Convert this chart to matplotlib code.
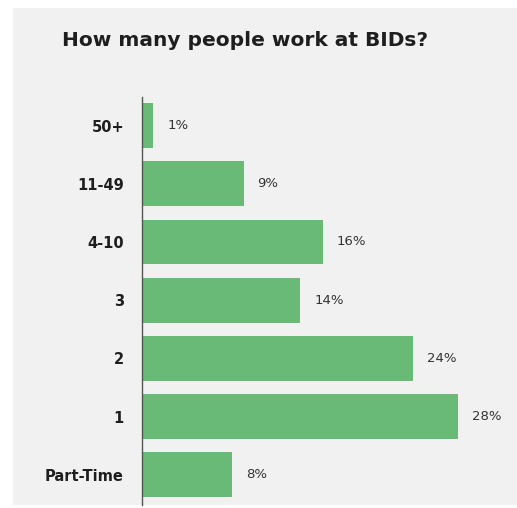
import matplotlib
matplotlib.use("Agg")
import matplotlib.pyplot as plt
from matplotlib.patches import Rectangle

# === DATA ===
categories = ["50+", "11-49", "4-10", "3", "2", "1", "Part-Time"]
values = [1, 9, 16, 14, 24, 28, 8]
value_labels = ["1%", "9%", "16%", "14%", "24%", "28%", "8%"]

bar_color = "#69b977"
text_color = "#1e1e1e"

# === FIGURE ===
W, H = 517, 508
fig = plt.figure(figsize=(W / 100, H / 100), dpi=100)
fig.patch.set_facecolor("white")

# light grey panel behind everything
fig.patches.append(Rectangle((13 / W, 3 / H), (W - 13) / W, (H - 11) / H,
                             transform=fig.transFigure, facecolor="#f1f1f1",
                             edgecolor="none", zorder=-5))

ax = fig.add_axes([142 / W, 3 / H, 339 / W, (505 - 97) / H])
ax.set_facecolor("none")
ax.set_zorder(2)

pos = list(range(len(categories)))
ax.barh(pos, values, height=0.77, color=bar_color, zorder=2)

for p, v, lab in zip(pos, values, value_labels):
    ax.annotate(lab, (v, p), xytext=(10, 0), textcoords="offset points",
                va="center", ha="left", fontsize=9.5, color="#333333")

ax.set_xlim(0, 30)
ax.set_ylim(6.52, -0.49)
ax.set_yticks(pos)
ax.set_yticklabels(categories, fontsize=10.5, fontweight="bold", color=text_color)
ax.tick_params(axis="y", length=0, pad=13)
ax.set_xticks([])

for side in ["top", "right", "bottom"]:
    ax.spines[side].set_visible(False)
ax.spines["left"].set_color("#555555")
ax.spines["left"].set_linewidth(1.0)

fig.text(62 / W, 1 - 40 / H, "How many people work at BIDs?", fontsize=14.5,
         fontweight="bold", color=text_color, ha="left", va="center")

fig.savefig("out.png", dpi=100, facecolor=fig.get_facecolor())
